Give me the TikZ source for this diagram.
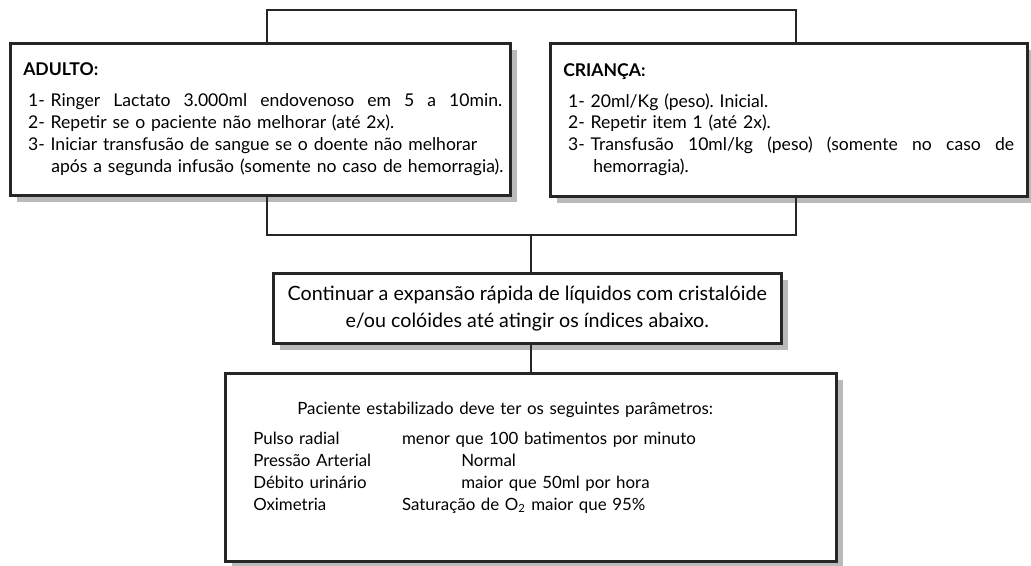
\documentclass[tikz,border=0pt]{standalone}
\usepackage{fontspec}
\setmainfont{Lato}
\usetikzlibrary{shadows}
\frenchspacing
\begin{document}
\begin{tikzpicture}[x=0.025cm, y=-0.025cm, font=\fontsize{12.5}{15.6}\selectfont, line join=miter,
	caixa/.style={draw=black!85, line width=1.8pt, fill=white, anchor=north west, inner ysep=0pt, general shadow={fill=black!27, shadow xshift=0.175cm, shadow yshift=-0.175cm}},
	fio/.style={draw=black!85, line width=1.8pt}]
	\def\pu{0.025cm} % 1 px
	\def\esp{\hspace{\fill}}
	\useasboundingbox (0,0) rectangle (1031,565);
	% caixas
	\node[caixa, align=left, inner xsep=13*\pu, text width=474*\pu, minimum width=500*\pu, minimum height=152*\pu] (adulto) at (9,42) {\textbf{ADULTO:}\\[0.22cm]
		\hspace*{0.12cm}\makebox[11.85cm][l]{1- Ringer\esp Lactato\esp 3.000ml\esp endovenoso\esp em\esp 5\esp a\esp 10min.}\\
		\hspace*{0.12cm}\mbox{2- Repetir se o paciente não melhorar (até 2x).}\\
		\hspace*{0.12cm}\mbox{3- Iniciar transfusão de sangue se o doente não melhorar}\\
		\hspace*{0.7cm}\mbox{após a segunda infusão (somente no caso de hemorragia).}};
	\node[caixa, align=left, inner xsep=13*\pu, text width=451*\pu, minimum width=477*\pu, minimum height=153*\pu] (crianca) at (549,42) {\textbf{CRIANÇA:}\\[0.22cm]
		\hspace*{0.12cm}1- 20ml/Kg (peso). Inicial.\\
		\hspace*{0.12cm}2- Repetir item 1 (até 2x).\\
		\hspace*{0.12cm}\makebox[11.15cm][l]{3- Transfusão\esp 10ml/kg\esp (peso)\esp (somente\esp no\esp caso\esp de}\\
		\hspace*{0.75cm}hemorragia).};
	\node[caixa, align=center, font=\fontsize{14}{19}\selectfont, minimum width=508*\pu, minimum height=70*\pu] (meio) at (272,272) {Continuar a expansão rápida de líquidos com cristalóide\\ e/ou colóides até atingir os índices abaixo.};
	\node[caixa, align=left, font=\fontsize{12}{15.6}\selectfont, inner xsep=28*\pu, text width=555*\pu, minimum width=611*\pu, minimum height=188*\pu] (resumo) at (224,372) {\hspace*{1.1cm}Paciente estabilizado deve ter os seguintes parâmetros:\\[0.2cm]
		\makebox[3.72cm][l]{Pulso radial}menor que 100 batimentos por minuto\\
		\makebox[5.2cm][l]{Pressão Arterial}Normal\\
		\makebox[5.2cm][l]{Débito urinário}maior que 50ml por hora\\
		\makebox[3.72cm][l]{Oximetria}Saturação de O\textsubscript{2} maior que 95\%\\[0cm]\mbox{}};
	% ligacoes
	\coordinate (tl) at (267,10); \coordinate (tr) at (796,10);
	\coordinate (bl) at (267,235); \coordinate (br) at (796,235);
	\coordinate (jn) at (531,235);
	\draw[fio] (adulto.north -| tl) -- (tl) -- (tr) -- (crianca.north -| tr);
	\draw[fio] (adulto.south -| bl) -- (bl) -- (br) -- (crianca.south -| br);
	\draw[fio] (jn) -- (jn |- meio.north);
	\draw[fio] (meio.south -| jn) -- (jn |- resumo.north);
\end{tikzpicture}
\end{document}
